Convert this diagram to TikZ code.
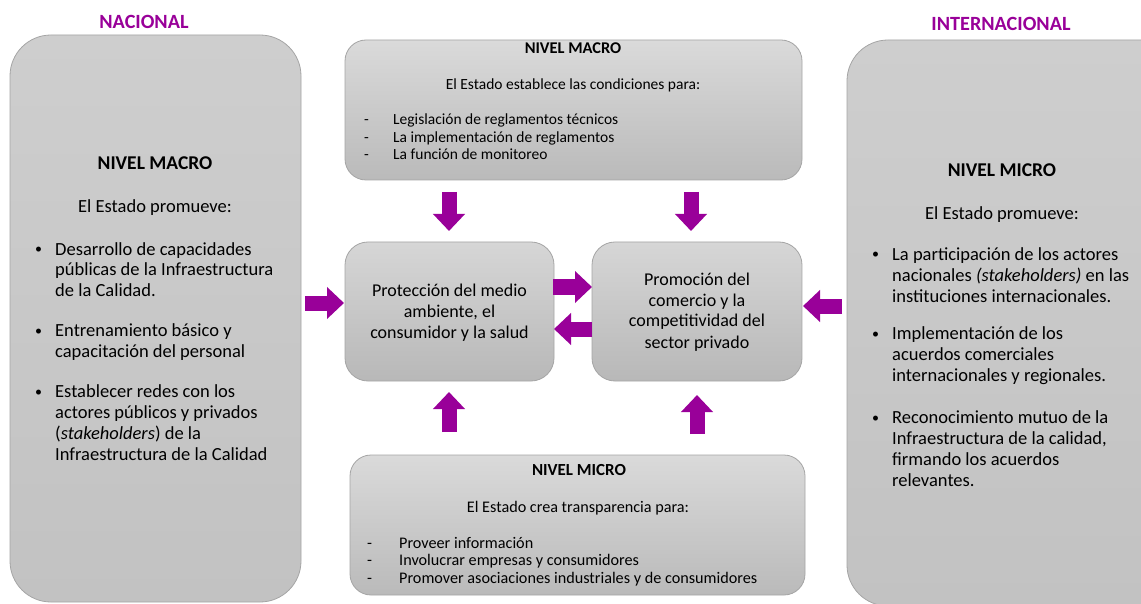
\documentclass[tikz,border=0pt]{standalone}
\usepackage{fontspec}
\setmainfont{Carlito}
\usetikzlibrary{arrows.meta}
\definecolor{purp}{RGB}{153,0,153}
\definecolor{boxline}{RGB}{165,165,165}
\newcommand\bigfont{\fontsize{18.5}{21}\selectfont}
\newcommand\midfont{\fontsize{18}{21}\selectfont}
\newcommand\smallfont{\fontsize{15.5}{17.2}\selectfont}
\newcommand\botfont{\fontsize{16.2}{17.5}\selectfont}
\newcommand\bulfont{\fontsize{14}{21}\selectfont}
\tikzset{
  bigbox/.style={draw=boxline, line width=0.8pt, rounded corners=41pt, top color={rgb,255:red,206;green,206;blue,206}, bottom color={rgb,255:red,194;green,194;blue,194}},
  widebox/.style={draw=boxline, line width=0.8pt, rounded corners=21pt, top color={rgb,255:red,218;green,218;blue,218}, bottom color={rgb,255:red,186;green,186;blue,186}},
  centerbox/.style={draw=boxline, line width=0.8pt, rounded corners=23pt, top color={rgb,255:red,214;green,214;blue,214}, bottom color={rgb,255:red,184;green,184;blue,184}},
  txt/.style={inner sep=0pt, align=left, anchor=base west},
  ctxt/.style={inner sep=0pt, align=center, anchor=base},
  label/.style={inner sep=0pt, anchor=base, text=purp, font=\fontsize{20.2}{22}\selectfont\bfseries},
  blockarrow/.style={draw=purp, line width=15pt, -{Triangle[width=31pt,length=17pt]}},
}
\begin{document}
\begin{tikzpicture}[x=1pt,y=-1pt]
\clip (0,0) rectangle (1141,604);
\fill[white] (0,0) rectangle (1141,604);

% labels
\node[label] (lnac) at (144,29) {NACIONAL};
\node[label] (lint) at (1001,31) {INTERNACIONAL};

% boxes
\path[bigbox] (10,35) rectangle (301,602);
\node[inner sep=0pt] (leftbox) at (155.5,318.5) {};
\path[bigbox] (847,40) rectangle (1185,606);
\node[inner sep=0pt] (rightbox) at (1000,323) {};
\path[widebox] (345,40) rectangle (802,180);
\node[inner sep=0pt] (topbox) at (573.5,110) {};
\path[widebox] (350,455) rectangle (805,595);
\node[inner sep=0pt] (botbox) at (577.5,525) {};
\path[centerbox] (345,242) rectangle (554,381);
\node[inner sep=0pt] (cleft) at (449.5,311.5) {};
\path[centerbox] (592,242) rectangle (802,381);
\node[inner sep=0pt] (cright) at (697,311.5) {};

% left box text (multi-line nodes are placed by the baseline of their last line)
\node[ctxt, font=\fontsize{19.5}{22}\selectfont\bfseries] (lt1) at (155,170) {NIVEL MACRO};
\node[ctxt, font=\bigfont] (lt2) at (155,213) {El Estado promueve:};
\node[txt, font=\bulfont] (lb1) at (35,254) {•};
\node[txt, font=\bigfont] (li1) at (55,297) {Desarrollo de capacidades\\públicas de la Infraestructura\\de la Calidad.};
\node[txt, font=\bulfont] (lb2) at (35,335) {•};
\node[txt, font=\bigfont] (li2) at (55,357) {Entrenamiento básico y\\capacitación del personal};
\node[txt, font=\bulfont] (lb3) at (35,396) {•};
\node[txt, font=\bigfont] (li3) at (55,460) {Establecer redes con los\\actores públicos y privados\\(\textit{stakeholders}) de la\\Infraestructura de la Calidad};

% right box text
\node[ctxt, font=\fontsize{19.5}{22}\selectfont\bfseries] (rt1) at (1002,177) {NIVEL MICRO};
\node[ctxt, font=\bigfont] (rt2) at (1002,220) {El Estado promueve:};
\node[txt, font=\bulfont] (rb1) at (872,259) {•};
\node[txt, font=\bigfont] (ri1) at (892,302) {La participación de los actores\\nacionales \textit{(stakeholders)} en las\\instituciones internacionales.};
\node[txt, font=\bulfont] (rb2) at (872,338) {•};
\node[txt, font=\bigfont] (ri2) at (892,381) {Implementación de los\\acuerdos comerciales\\internacionales y regionales.};
\node[txt, font=\bulfont] (rb3) at (872,422) {•};
\node[txt, font=\bigfont] (ri3) at (892,486) {Reconocimiento mutuo de la\\Infraestructura de la calidad,\\firmando los acuerdos\\relevantes.};

% top box text
\node[ctxt, font=\fontsize{16.4}{17}\selectfont\bfseries] (tt1) at (573,54) {NIVEL MACRO};
\node[ctxt, font=\smallfont] (tt2) at (573,90) {El Estado establece las condiciones para:};
\node[txt, font=\smallfont] (td) at (364,159.4) {-\\-\\-};
\node[txt, font=\smallfont] (ti) at (393,159.4) {Legislación de reglamentos técnicos\\La implementación de reglamentos\\La función de monitoreo};

% bottom box text
\node[ctxt, font=\fontsize{16.9}{17}\selectfont\bfseries] (bt1) at (579,475) {NIVEL MICRO};
\node[ctxt, font=\botfont] (bt2) at (578,512) {El Estado crea transparencia para:};
\node[txt, font=\botfont] (bd) at (367,583) {-\\-\\-};
\node[txt, font=\botfont] (bi) at (399,583) {Proveer información\\Involucrar empresas y consumidores\\Promover asociaciones industriales y de consumidores};

% center texts
\node[ctxt, font=\midfont] (ct1) at (449.5,338) {Protección del medio\\ambiente, el\\consumidor y la salud};
\node[ctxt, font=\midfont] (ct2) at (697,348) {Promoción del\\comercio y la\\competitividad del\\sector privado};

% arrow end points
\coordinate (a1s) at (449,192); \coordinate (a1e) at (449,231);
\coordinate (a2s) at (691,192); \coordinate (a2e) at (691,231);
\coordinate (a3s) at (449,432); \coordinate (a3e) at (449,392);
\coordinate (a4s) at (697,434); \coordinate (a4e) at (697,395);
\coordinate (a5s) at (305,303); \coordinate (a5e) at (344,303);
\coordinate (a6s) at (553,287); \coordinate (a6e) at (592,287);
\coordinate (a7s) at (592,329); \coordinate (a7e) at (554,329);
\coordinate (a8s) at (842,306); \coordinate (a8e) at (803,306);
\draw[blockarrow] (a1s) -- (a1e);
\draw[blockarrow] (a2s) -- (a2e);
\draw[blockarrow] (a3s) -- (a3e);
\draw[blockarrow] (a4s) -- (a4e);
\draw[blockarrow] (a5s) -- (a5e);
\draw[blockarrow] (a6s) -- (a6e);
\draw[blockarrow] (a7s) -- (a7e);
\draw[blockarrow] (a8s) -- (a8e);
\end{tikzpicture}
\end{document}
